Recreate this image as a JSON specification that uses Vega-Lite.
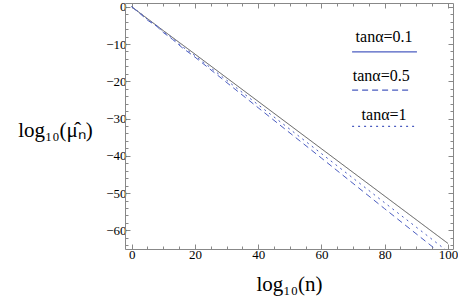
{
  "$schema": "https://vega.github.io/schema/vega-lite/v6.json",
  "autosize": "none",
  "width": 328,
  "height": 246,
  "padding": {"left": 125, "top": 3, "right": 5, "bottom": 51},
  "background": "white",
  "config": {"view": {"stroke": null}, "font": "Liberation Serif"},
  "datasets": {
    "curves": [
      {"x": 0, "y": 0, "s": "tanα=0.1"},
      {"x": 10, "y": -6.4, "s": "tanα=0.1"},
      {"x": 20, "y": -12.7, "s": "tanα=0.1"},
      {"x": 40, "y": -25.4, "s": "tanα=0.1"},
      {"x": 60, "y": -38.1, "s": "tanα=0.1"},
      {"x": 80, "y": -50.8, "s": "tanα=0.1"},
      {"x": 100, "y": -63.5, "s": "tanα=0.1"},
      {"x": 0, "y": 0, "s": "tanα=0.5"},
      {"x": 3, "y": -2.1, "s": "tanα=0.5"},
      {"x": 5, "y": -3.6, "s": "tanα=0.5"},
      {"x": 8, "y": -5.3, "s": "tanα=0.5"},
      {"x": 10, "y": -6.9, "s": "tanα=0.5"},
      {"x": 13, "y": -8.8, "s": "tanα=0.5"},
      {"x": 16, "y": -11.0, "s": "tanα=0.5"},
      {"x": 20, "y": -13.5, "s": "tanα=0.5"},
      {"x": 40, "y": -27.1, "s": "tanα=0.5"},
      {"x": 60, "y": -40.6, "s": "tanα=0.5"},
      {"x": 80, "y": -54.2, "s": "tanα=0.5"},
      {"x": 100, "y": -67.7, "s": "tanα=0.5"},
      {"x": 0, "y": 0, "s": "tanα=1"},
      {"x": 3, "y": -1.9, "s": "tanα=1"},
      {"x": 5, "y": -3.4, "s": "tanα=1"},
      {"x": 8, "y": -5.1, "s": "tanα=1"},
      {"x": 10, "y": -6.7, "s": "tanα=1"},
      {"x": 13, "y": -8.5, "s": "tanα=1"},
      {"x": 16, "y": -10.7, "s": "tanα=1"},
      {"x": 20, "y": -13.1, "s": "tanα=1"},
      {"x": 40, "y": -26.3, "s": "tanα=1"},
      {"x": 60, "y": -39.4, "s": "tanα=1"},
      {"x": 80, "y": -52.6, "s": "tanα=1"},
      {"x": 100, "y": -65.7, "s": "tanα=1"}
    ],
    "legendText": [
      {"x": 79.8, "y": -9.4, "t": "tanα=0.1"},
      {"x": 78.9, "y": -20.0, "t": "tanα=0.5"},
      {"x": 79.8, "y": -30.3, "t": "tanα=1"}
    ],
    "legendLines": [
      {"x": 69.7, "x2": 90.2, "y": -12.1, "s": "tanα=0.1"},
      {"x": 69.7, "x2": 88.6, "y": -22.4, "s": "tanα=0.5"},
      {"x": 69.7, "x2": 89.6, "y": -32.1, "s": "tanα=1"}
    ]
  },
  "resolve": {
    "axis": {"x": "independent", "y": "independent"},
    "scale": {"color": "independent", "strokeDash": "independent"}
  },
  "layer": [
    {
      "data": {"name": "curves"},
      "mark": {"type": "line", "clip": true, "strokeWidth": 1},
      "encoding": {
        "x": {
          "field": "x", "type": "quantitative",
          "scale": {"domain": [-2.1, 101.6], "nice": false, "zero": false},
          "axis": {
            "title": "log₁₀(n)", "titleFont": "Liberation Serif", "titleFontSize": 21, "titleFontWeight": "normal", "titleColor": "black", "titlePadding": 10,
            "values": [0,5,10,15,20,25,30,35,40,45,50,55,60,65,70,75,80,85,90,95,100],
            "labelExpr": "datum.value % 20 === 0 ? format(datum.value, 'd') : ''",
            "labelFont": "Liberation Serif", "labelFontSize": 13, "labelColor": "black", "labelPadding": 4,
            "tickSize": {"condition": {"test": "datum.value % 20 === 0", "value": -5}, "value": -3},
            "tickColor": "#888", "domainColor": "#888", "grid": false, "labelFlush": false, "labelOverlap": false
          }
        },
        "y": {
          "field": "y", "type": "quantitative",
          "scale": {"domain": [-65, 1], "nice": false, "zero": false},
          "axis": {
            "title": "log₁₀(μ̂ₙ)", "titleFont": "Liberation Serif", "titleFontSize": 21, "titleFontWeight": "normal", "titleColor": "black",
            "titleAngle": 0, "titleX": -70, "titleY": 127, "titleAlign": "center", "titleBaseline": "middle",
            "values": [-64,-62,-60,-58,-56,-54,-52,-50,-48,-46,-44,-42,-40,-38,-36,-34,-32,-30,-28,-26,-24,-22,-20,-18,-16,-14,-12,-10,-8,-6,-4,-2,0],
            "labelExpr": "datum.value % 10 === 0 ? format(datum.value, 'd') : ''",
            "labelFont": "Liberation Serif", "labelFontSize": 13, "labelColor": "black", "labelPadding": 4,
            "tickSize": {"condition": {"test": "datum.value % 10 === 0", "value": -5}, "value": -3},
            "tickColor": "#888", "domainColor": "#888", "grid": false, "labelFlush": false, "labelOverlap": false
          }
        },
        "color": {
          "field": "s", "type": "nominal",
          "scale": {"domain": ["tanα=0.1", "tanα=0.5", "tanα=1"], "range": ["#555555", "#4a5cc0", "#4a5cc0"]},
          "legend": null
        },
        "strokeDash": {
          "field": "s", "type": "nominal",
          "scale": {"domain": ["tanα=0.1", "tanα=0.5", "tanα=1"], "range": [[1, 0], [6, 4], [2, 4]]},
          "legend": null
        }
      }
    },
    {
      "data": {"name": "legendLines"},
      "mark": {"type": "rule", "strokeWidth": 1.2},
      "encoding": {
        "x": {"field": "x", "type": "quantitative", "axis": {"orient": "top", "title": null, "labels": false, "values": [0,5,10,15,20,25,30,35,40,45,50,55,60,65,70,75,80,85,90,95,100], "tickSize": {"condition": {"test": "datum.value % 20 === 0", "value": -5}, "value": -3}, "tickColor": "#888", "domainColor": "#888", "grid": false}},
        "x2": {"field": "x2"},
        "y": {"field": "y", "type": "quantitative", "axis": {"orient": "right", "title": null, "labels": false, "values": [-64,-62,-60,-58,-56,-54,-52,-50,-48,-46,-44,-42,-40,-38,-36,-34,-32,-30,-28,-26,-24,-22,-20,-18,-16,-14,-12,-10,-8,-6,-4,-2,0], "tickSize": {"condition": {"test": "datum.value % 10 === 0", "value": -5}, "value": -3}, "tickColor": "#888", "domainColor": "#888", "grid": false}},
        "color": {"field": "s", "type": "nominal", "scale": {"domain": ["tanα=0.1", "tanα=0.5", "tanα=1"], "range": ["#4a5cc0", "#4a5cc0", "#4a5cc0"]}, "legend": null},
        "strokeDash": {"field": "s", "type": "nominal", "scale": {"domain": ["tanα=0.1", "tanα=0.5", "tanα=1"], "range": [[1, 0], [6, 4], [2, 4]]}, "legend": null}
      }
    },
    {
      "data": {"name": "legendText"},
      "mark": {"type": "text", "font": "Liberation Serif", "fontSize": 16, "color": "black", "baseline": "alphabetic", "align": "center"},
      "encoding": {
        "x": {"field": "x", "type": "quantitative", "axis": null},
        "y": {"field": "y", "type": "quantitative", "axis": null},
        "text": {"field": "t"}
      }
    }
  ]
}
